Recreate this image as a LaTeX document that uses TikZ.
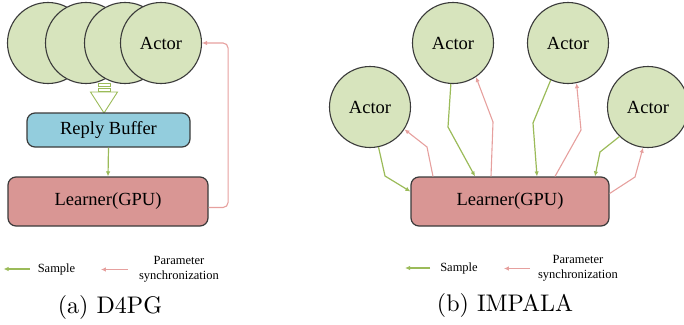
\documentclass[tikz,border=0pt]{standalone}
\usepackage{fontspec}
\newfontfamily\tnr{Liberation Serif}
\usetikzlibrary{arrows.meta, positioning, calc}

\definecolor{actorfill}{HTML}{D7E4BD}
\definecolor{bufferfill}{HTML}{93CDDD}
\definecolor{learnerfill}{HTML}{D99694}
\definecolor{edgegray}{HTML}{3A3A3A}
\definecolor{samplegreen}{HTML}{9BBB59}
\definecolor{paramred}{HTML}{E6A09E}

\begin{document}
\begin{tikzpicture}[x=1pt, y=-1pt,
    actor/.style={circle, draw=edgegray, line width=1.1pt, fill=actorfill,
      minimum size=81pt, inner sep=0pt, font=\tnr\fontsize{18.5}{20}\selectfont},
    box/.style={rounded corners=8pt, draw=edgegray, line width=1.2pt,
      inner sep=0pt, font=\tnr\fontsize{18.5}{20}\selectfont},
    sample/.style={draw=samplegreen, line width=1.2pt, -{Latex[length=5pt,width=4.5pt]}},
    param/.style={draw=paramred, line width=1.1pt, -{Latex[length=5pt,width=4.5pt]}},
    legend/.style={font=\tnr\fontsize{12.5}{14.5}\selectfont, align=center, inner sep=0pt},
    caption/.style={font=\normalsize, scale=2.4, inner sep=0pt}]
    \useasboundingbox (0,0) rectangle (684,324);

    % --- (a) D4PG ---
    \node[actor] (c1) at (48,43) {};
    \node[actor] (c2) at (86,43) {};
    \node[actor] (c3) at (125,43) {};
    \node[actor] (c4) at (161,43) {Actor};

    % striped hollow arrow into the buffer
    \draw[samplegreen, line width=0.9pt, fill=white] (98,83) rectangle (110,86);
    \draw[samplegreen, line width=0.9pt, fill=white] (98,88) rectangle (110,91);
    \draw[samplegreen, line width=0.9pt, fill=white]
      (90.5,92) -- (117.5,92) -- (104,113) -- cycle;

    \node[box, fill=bufferfill, minimum width=163pt, minimum height=34pt] (buf) at (108.5,130) {Reply Buffer};
    \node[box, fill=learnerfill, minimum width=200pt, minimum height=49pt] (lrnA) at (108,201.5) {Learner(GPU)};

    \draw[sample] (buf.south) -- (lrnA.north);
    \draw[param, rounded corners=5pt] ([yshift=-6pt]lrnA.east) -| ([xshift=26pt]c4.east) -- (c4.east);

    % legend
    \node[legend] (smpA) at (56.5,269) {Sample};
    \draw[sample] ([xshift=-8pt]smpA.west) -- ++(-26,0);
    \node[legend] (parA) at (179,269.5) {Parameter\\synchronization};
    \draw[param] ([xshift=-11pt]parA.west) -- ++(-27,0);

    \node[caption] (capA) at (110,307) {(a)~D4PG};

    % --- (b) IMPALA ---
    \node[actor] (a1) at (370,107) {Actor};
    \node[actor] (a2) at (453,43) {Actor};
    \node[actor] (a3) at (568,43) {Actor};
    \node[actor] (a4) at (648,107) {Actor};
    \node[box, fill=learnerfill, minimum width=198pt, minimum height=49pt] (lrnB) at (510,201.5) {Learner(GPU)};

    % samples from each actor
    \draw[sample] (a1.-78) -- (385,176) -- ([yshift=10pt]lrnB.west);
    \draw[sample] (a2.-93) -- (448,127) -- (475,0 |- lrnB.north);
    \draw[sample] (a3.-115) -- (533,123) -- (537,0 |- lrnB.north);
    \draw[sample] (a4.-134) -- (600,152) -- (595,0 |- lrnB.north);

    % parameters back to each actor
    \draw[param] (433,0 |- lrnB.north) -- (427,147) -- (a1.-33);
    \draw[param] (491,0 |- lrnB.north) -- (493,122) -- (a2.-56);
    \draw[param] (555,0 |- lrnB.north) -- (581,130) -- (a3.-78);
    \draw[param] ([yshift=8pt]lrnB.east) -- (635,177) -- (a4.-97);

    % legend
    \node[legend] (smpB) at (459,268) {Sample};
    \draw[sample] ([xshift=-10pt]smpB.west) -- ++(-25,0);
    \node[legend] (parB) at (578,268.5) {Parameter\\synchronization};
    \draw[param] ([xshift=-8pt]parB.west) -- ++(-26,0);

    \node[caption] (capB) at (505,305) {(b)~IMPALA};
  \end{tikzpicture}
\end{document}
